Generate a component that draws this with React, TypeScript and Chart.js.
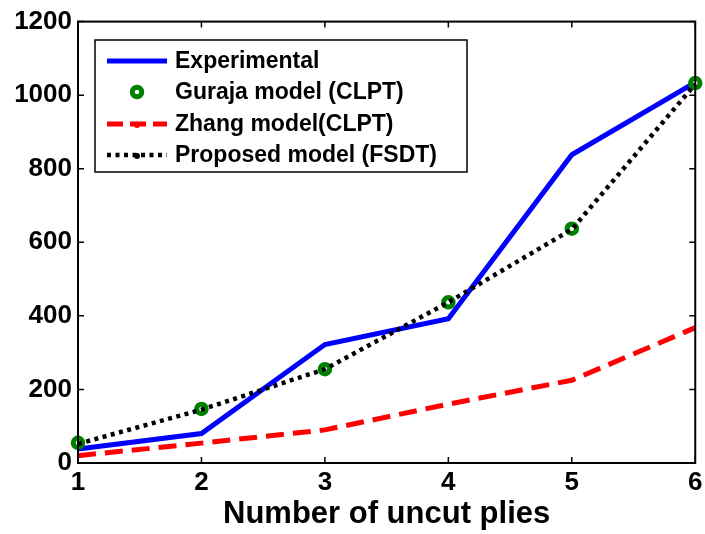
import React, { useEffect, useRef } from "react";
import { Chart, registerables } from "chart.js";

Chart.register(...registerables);

const plies = [1, 2, 3, 4, 5, 6];
const experimental = [38, 80, 322, 392, 838, 1035];
const guraja = [55, 147, 255, 437, 637, 1033];
const zhang = [20, 54, 90, 160, 225, 368];
const proposed = [52, 145, 255, 437, 635, 1030];
const yTicks = [0, 200, 400, 600, 800, 1000, 1200];
const legendLabels = [
  "Experimental",
  "Guraja model (CLPT)",
  "Zhang model(CLPT)",
  "Proposed model (FSDT)",
];

const FONT = "'Liberation Sans', Arial, sans-serif";

const framePlugin = {
  id: "frame",
  afterDatasetsDraw(chart: any) {
    const { ctx, chartArea: a, scales } = chart;
    ctx.save();
    ctx.strokeStyle = "#000";
    ctx.lineWidth = 2;
    ctx.setLineDash([]);
    ctx.strokeRect(a.left, a.top, a.right - a.left, a.bottom - a.top);
    ctx.lineWidth = 1.5;
    const tl = 6;
    scales.x.ticks.forEach((t: any) => {
      const px = scales.x.getPixelForValue(t.value);
      ctx.beginPath();
      ctx.moveTo(px, a.bottom);
      ctx.lineTo(px, a.bottom - tl);
      ctx.moveTo(px, a.top);
      ctx.lineTo(px, a.top + tl);
      ctx.stroke();
    });
    scales.y.ticks.forEach((t: any) => {
      const py = scales.y.getPixelForValue(t.value);
      ctx.beginPath();
      ctx.moveTo(a.left, py);
      ctx.lineTo(a.left + tl, py);
      ctx.moveTo(a.right, py);
      ctx.lineTo(a.right - tl, py);
      ctx.stroke();
    });
    ctx.restore();
  },
  afterDraw(chart: any) {
    const { ctx } = chart;
    const bx = 95, by = 40, bw = 372, bh = 132;
    ctx.save();
    ctx.fillStyle = "#fff";
    ctx.fillRect(bx, by, bw, bh);
    ctx.strokeStyle = "#000";
    ctx.lineWidth = 1.5;
    ctx.setLineDash([]);
    ctx.strokeRect(bx, by, bw, bh);
    const rows = [61, 92, 124, 155];
    const x0 = 107, x1 = 167, xm = 137;
    chart.data.datasets.forEach((ds: any, i: number) => {
      const y = rows[i];
      if (ds.showLine !== false) {
        ctx.beginPath();
        ctx.strokeStyle = ds.borderColor;
        ctx.lineWidth = ds.borderWidth;
        ctx.setLineDash(i === 2 ? [16, 7] : ds.borderDash || []);
        ctx.moveTo(x0, y);
        ctx.lineTo(x1, y);
        ctx.stroke();
        if (i >= 2) {
          ctx.setLineDash([]);
          ctx.fillStyle = ds.borderColor;
          ctx.beginPath();
          ctx.arc(xm, y + 1, 3, 0, Math.PI * 2);
          ctx.fill();
        }
      } else {
        ctx.setLineDash([]);
        ctx.beginPath();
        ctx.arc(xm, y, ds.pointRadius, 0, Math.PI * 2);
        ctx.fillStyle = ds.pointBackgroundColor;
        ctx.fill();
        ctx.lineWidth = ds.pointBorderWidth;
        ctx.strokeStyle = ds.pointBorderColor;
        ctx.stroke();
      }
      ctx.fillStyle = "#000";
      ctx.font = `bold 23px ${FONT}`;
      ctx.textBaseline = "middle";
      ctx.textAlign = "left";
      ctx.fillText(legendLabels[i], 175, y + 1);
    });
    ctx.restore();
  },
};

export default function App() {
  const ref = useRef<HTMLCanvasElement | null>(null);
  useEffect(() => {
    if (!ref.current) return;
    const chart = new Chart(ref.current, {
      type: "line",
      data: {
        labels: plies,
        datasets: [
          {
            label: legendLabels[0],
            data: plies.map((x, i) => ({ x, y: experimental[i] })),
            borderColor: "#0000FF",
            borderWidth: 5,
            pointRadius: 0,
            fill: false,
            tension: 0,
            clip: false,
            order: 4,
          },
          {
            label: legendLabels[1],
            data: plies.map((x, i) => ({ x, y: guraja[i] })),
            showLine: false,
            pointRadius: 4.75,
            pointBorderWidth: 5,
            pointBorderColor: "#008000",
            pointBackgroundColor: "#FFFFFF",
            borderColor: "#008000",
            borderWidth: 5,
            clip: false,
            order: 3,
          },
          {
            label: legendLabels[2],
            data: plies.map((x, i) => ({ x, y: zhang[i] })),
            borderColor: "#FF0000",
            borderWidth: 5,
            borderDash: [18, 9],
            pointRadius: 0,
            fill: false,
            tension: 0,
            clip: false,
            order: 2,
          },
          {
            label: legendLabels[3],
            data: plies.map((x, i) => ({ x, y: proposed[i] })),
            borderColor: "#000000",
            borderWidth: 4.5,
            borderDash: [4, 4.5],
            pointRadius: 0,
            fill: false,
            tension: 0,
            clip: false,
            order: 1,
          },
        ],
      },
      options: {
        responsive: false,
        animation: false,
        layout: { padding: { top: 21, right: 7, left: 0, bottom: 0 } },
        plugins: { legend: { display: false }, tooltip: { enabled: false } },
        scales: {
          x: {
            type: "linear",
            min: 1,
            max: 6,
            afterFit: (s: any) => {
              s.height = 71;
              s.paddingRight = 0;
              s.paddingLeft = 0;
            },
            afterBuildTicks: (s: any) => {
              s.ticks = plies.map((v) => ({ value: v }));
            },
            ticks: {
              color: "#000",
              font: { family: FONT, size: 26, weight: "bold" },
              padding: 4,
              maxRotation: 0,
              callback: (v: any) => String(v),
            },
            grid: { display: false, drawTicks: false, tickLength: 0 },
            border: { display: false },
            title: {
              display: true,
              text: "Number of uncut plies",
              color: "#000",
              font: { family: FONT, size: 31, weight: "bold" },
              padding: { top: 0, bottom: 1 },
            },
          },
          y: {
            type: "linear",
            min: 0,
            max: 1200,
            afterFit: (s: any) => {
              s.width = 78;
            },
            afterBuildTicks: (s: any) => {
              s.ticks = yTicks.map((v) => ({ value: v }));
            },
            ticks: {
              color: "#000",
              font: { family: FONT, size: 26, weight: "bold" },
              padding: 6,
              callback: (v: any) => String(v),
            },
            grid: { display: false, drawTicks: false, tickLength: 0 },
            border: { display: false },
          },
        },
      },
      plugins: [framePlugin],
    } as any);
    return () => chart.destroy();
  }, []);
  return (
    <div style={{ position: "fixed", left: 0, top: 0, width: 705, height: 534, background: "#fff" }}>
      <canvas ref={ref} width={705} height={534} />
    </div>
  );
}
